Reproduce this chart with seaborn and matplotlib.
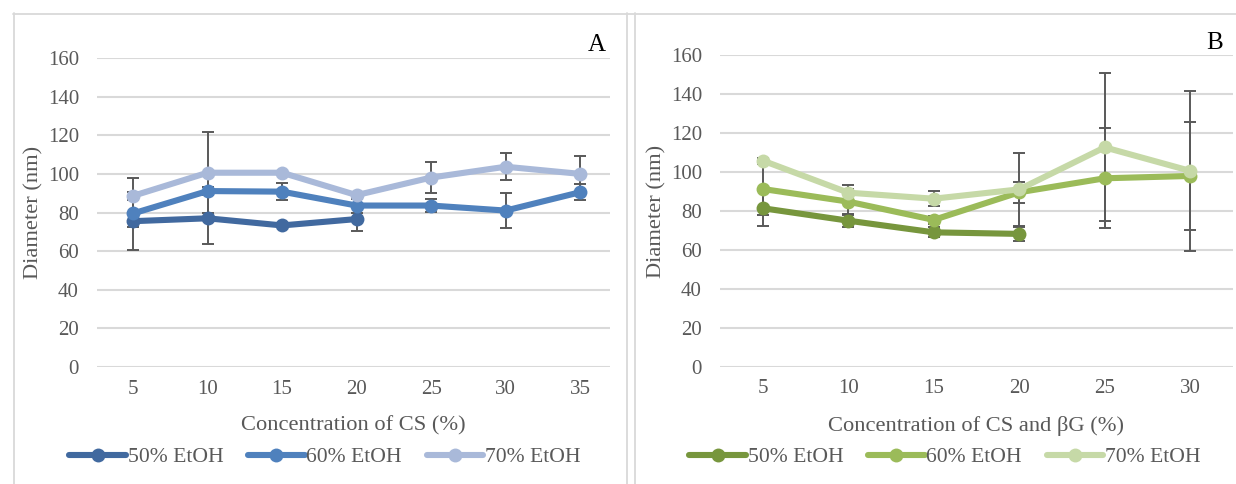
import numpy as np
import pandas as pd
import matplotlib
matplotlib.use("Agg")
import matplotlib.pyplot as plt
from matplotlib.lines import Line2D
import seaborn as sns

# ---------------- data ----------------
conc_a = ["5", "10", "15", "20", "25", "30", "35"]
a_50 = [75.5, 77.0, 73.3, 76.6]
a_60 = [79.5, 91.1, 90.8, 83.6, 83.6, 81.0, 90.5]
a_70 = [88.6, 100.6, 100.6, 89.0, 98.1, 103.7, 100.0]
a_50_err = [15.0, 13.5, 1.0, 6.0]
a_60_err = [7.0, 2.0, 4.5, 3.6, 3.2, 9.0, 4.0]
a_70_err = [9.5, 21.0, 1.0, 1.0, 7.8, 7.0, 9.0]

conc_b = ["5", "10", "15", "20", "25", "30"]
b_50 = [81.4, 75.0, 69.0, 68.2]
b_60 = [91.3, 84.8, 75.4, 89.6, 96.8, 98.0]
b_70 = [105.9, 89.4, 86.3, 91.1, 112.7, 100.6]
b_50_err = [9.0, 3.0, 2.5, 3.5]
b_60_err = [13.5, 6.5, 2.0, 5.5, 25.7, 28.0]
b_70_err = [1.5, 4.0, 4.0, 18.7, 38.0, 41.0]

series_names = ["50% EtOH", "60% EtOH", "70% EtOH"]
colors_a = ["#41699F", "#4F81BD", "#A9B9D9"]
colors_b = ["#77963D", "#9BBB59", "#C6D9A7"]

x_label_a = "Concentration of CS (%)"
x_label_b = "Concentration of CS and βG (%)"
y_label = "Diameter (nm)"
y_ticks = [0, 20, 40, 60, 80, 100, 120, 140, 160]

# ---------------- style ----------------
sns.set_theme(style="white")
plt.rcParams["font.family"] = ["Liberation Serif", "DejaVu Serif"]
TXT = "#595959"
GRID = "#D9D9D9"

fig = plt.figure(figsize=(12.36, 4.84), dpi=100)
W, H = 1236.0, 484.0


def fx(px):
    return px / W


def fy(py):
    return 1 - py / H


# frames
for xs, ys in [([13, 1236], [13.5, 13.5]), ([13.5, 13.5], [13, 484]),
               ([626.5, 626.5], [13, 484]), ([634.5, 634.5], [13, 484])]:
    fig.add_artist(Line2D([fx(x) for x in xs], [fy(y) for y in ys],
                          color=GRID, lw=1.3, transform=fig.transFigure))


def build_df(cats, vals_list, errs_list):
    rows = []
    for name, vals, errs in zip(series_names, vals_list, errs_list):
        for i, (v, e) in enumerate(zip(vals, errs)):
            rows.append({"idx": i, "cat": cats[i], "series": name,
                         "value": v, "err": e})
    return pd.DataFrame(rows)


def draw_panel(ax, cats, df, colors, xlabel, letter, letter_xy, xlim):
    pal = dict(zip(series_names, colors))
    # error bars under the lines
    for name in series_names:
        d = df[df.series == name]
        ax.errorbar(d["idx"], d["value"], yerr=d["err"], fmt="none",
                    ecolor="#595959", elinewidth=1.4, capsize=4.5,
                    capthick=1.4, zorder=2)
    sns.lineplot(data=df, x="idx", y="value", hue="series",
                 hue_order=series_names, palette=pal, marker="o",
                 markersize=10, markeredgewidth=0, linewidth=4.4,
                 ax=ax, legend=False, zorder=3, sort=False)
    ax.set_xlim(*xlim)
    ax.set_ylim(0, 160)
    ax.set_yticks(y_ticks)
    ax.set_yticklabels([str(t) for t in y_ticks])
    ax.set_xticks(range(len(cats)))
    ax.set_xticklabels(cats)
    ax.yaxis.grid(True, color=GRID, lw=1.5, zorder=0)
    ax.xaxis.grid(False)
    for s in ax.spines.values():
        s.set_visible(False)
    ax.tick_params(axis="both", length=0, labelsize=15, colors=TXT)
    ax.tick_params(axis="x", pad=9)
    ax.tick_params(axis="y", pad=13)
    ax.set_xlabel(xlabel, fontsize=16.2, color=TXT, labelpad=13)
    ax.set_ylabel(y_label, fontsize=16.2, color=TXT, labelpad=3)
    ax.set_axisbelow(True)
    fig.text(fx(letter_xy[0]), fy(letter_xy[1]), letter, fontsize=18,
             color="black", ha="center", va="center")
    handles = [Line2D([], [], color=c, lw=4.4, marker="o", markersize=10,
                      markeredgewidth=0) for c in colors]
    return handles


ax_a = fig.add_axes([fx(97), fy(367), fx(610) - fx(97), fy(58) - fy(367)])
ax_b = fig.add_axes([fx(720), fy(366.5), fx(1233) - fx(720), fy(55.4) - fy(366.5)])

df_a = build_df(conc_a, [a_50, a_60, a_70], [a_50_err, a_60_err, a_70_err])
df_b = build_df(conc_b, [b_50, b_60, b_70], [b_50_err, b_60_err, b_70_err])

h_a = draw_panel(ax_a, conc_a, df_a, colors_a, x_label_a, "A", (597, 45),
                 (-0.483, 6.40))
h_b = draw_panel(ax_b, conc_b, df_b, colors_b, x_label_b, "B", (1215, 43),
                 (-0.50, 5.50))

for handles, cx in [(h_a, 325), (h_b, 945)]:
    leg = fig.legend(handles, series_names, loc="center",
                     bbox_to_anchor=(fx(cx), fy(457)), ncol=3, frameon=False,
                     fontsize=15.6, handlelength=2.6, handletextpad=0.08,
                     columnspacing=1.15, borderaxespad=0)
    for t in leg.get_texts():
        t.set_color(TXT)

fig.savefig("out.png", dpi=100, facecolor="white")
